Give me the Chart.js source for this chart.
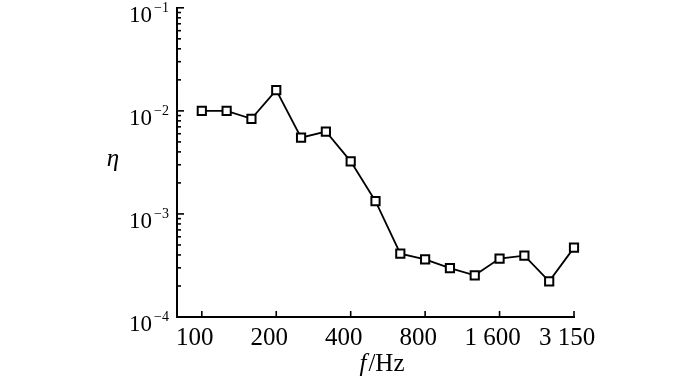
<!DOCTYPE html>
<html>
<head>
<meta charset="utf-8">
<script src="https://cdn.jsdelivr.net/npm/chart.js@4/dist/chart.umd.min.js"></script>
<style>
  body { margin: 0; background: #fff; }
  #wrap { width: 700px; height: 376px; }
</style>
</head>
<body>
<div id="wrap"><canvas id="graph" width="700" height="376"></canvas></div>
<script>
// 1/3 octave bands, loss factor eta
const freqLabels = ["100", "125", "160", "200", "250", "315", "400", "500", "630", "800", "1000", "1250", "1600", "2000", "2500", "3150"];
const etaValues = [0.0100, 0.0100, 0.00838, 0.0159, 0.00550, 0.0063, 0.00324, 0.00133, 0.000412, 0.000363, 0.000298, 0.000254, 0.000369, 0.000394, 0.000222, 0.000471];
const xTickIndex = [0, 3, 6, 9, 12, 15];
const xTickLabels = ["100", "200", "400", "800", "1 600", "3 150"];
const yTickExponents = [-4, -3, -2, -1];
const yMinorSteps = [2, 3, 4, 5, 6, 7, 8, 9];

const SERIF = "'Liberation Serif', 'DejaVu Serif', serif";

const axisDecor = {
  id: "axisDecor",
  afterDraw(chart) {
    const ctx = chart.ctx;
    const xs = chart.scales.x;
    const ys = chart.scales.y;
    const area = chart.chartArea;
    ctx.save();
    ctx.strokeStyle = "#000";
    ctx.fillStyle = "#000";
    ctx.lineWidth = 1.6;

    // y ticks, pointing inward
    yTickExponents.forEach(function (e, i) {
      const yp = ys.getPixelForValue(Math.pow(10, e));
      ctx.beginPath();
      ctx.moveTo(area.left, yp);
      ctx.lineTo(area.left + 7, yp);
      ctx.stroke();
      if (i < yTickExponents.length - 1) {
        yMinorSteps.forEach(function (m) {
          const ym = ys.getPixelForValue(m * Math.pow(10, e));
          ctx.beginPath();
          ctx.moveTo(area.left, ym);
          ctx.lineTo(area.left + 4, ym);
          ctx.stroke();
        });
      }
      // label 10^e
      ctx.font = "23px " + SERIF;
      ctx.textAlign = "right";
      ctx.textBaseline = "alphabetic";
      ctx.fillText("10", 152, yp + 14);
      ctx.font = "14px " + SERIF;
      ctx.textAlign = "left";
      ctx.fillText("\u2212" + Math.abs(e), 154, yp + 4);
    });

    // x ticks, pointing inward
    xTickIndex.forEach(function (idx, i) {
      const xp = xs.getPixelForValue(idx);
      ctx.beginPath();
      ctx.moveTo(xp, area.bottom);
      ctx.lineTo(xp, area.bottom - 6);
      ctx.stroke();
      ctx.font = "25px " + SERIF;
      ctx.textAlign = "center";
      ctx.textBaseline = "alphabetic";
      ctx.fillText(xTickLabels[i], xp - 7, area.bottom + 28);
    });

    // axis titles
    ctx.textAlign = "left";
    ctx.font = "italic 25px " + SERIF;
    const fW = ctx.measureText("f").width;
    ctx.font = "25px " + SERIF;
    const restW = ctx.measureText("/Hz").width;
    const startX = 381 - (fW + restW) / 2;
    ctx.font = "italic 25px " + SERIF;
    ctx.fillText("f", startX, 371);
    ctx.font = "25px " + SERIF;
    ctx.fillText("/Hz", startX + fW + 2, 371);

    ctx.font = "italic 25px " + SERIF;
    ctx.textAlign = "center";
    ctx.fillText("\u03b7", 113, 166);
    ctx.restore();
  }
};

const myChart = new Chart(document.getElementById("graph"), {
  type: "line",
  data: {
    datasets: [
      {
        label: "eta",
        data: etaValues.map(function (v, i) { return { x: i, y: v }; }),
        borderColor: "#000",
        borderWidth: 1.8,
        tension: 0,
        fill: false,
        pointStyle: "rect",
        pointRadius: 5.8,
        pointBorderWidth: 2,
        pointBackgroundColor: "#fff",
        pointBorderColor: "#000",
        clip: 10,
      },
    ],
  },
  options: {
    responsive: false,
    animation: false,
    events: [],
    layout: { padding: { left: 177, right: 126, top: 5, bottom: 59 } },
    plugins: { legend: { display: false }, tooltip: { enabled: false } },
    scales: {
      x: {
        type: "linear",
        min: -1,
        max: 15,
        grid: { display: false },
        ticks: { display: false },
        border: { display: true, color: "#000", width: 2 },
        afterFit: function (s) { s.height = 0; },
      },
      y: {
        type: "logarithmic",
        min: 1e-4,
        max: 1e-1,
        grid: { display: false },
        ticks: { display: false },
        border: { display: true, color: "#000", width: 2 },
        afterFit: function (s) { s.width = 0; },
      },
    },
  },
  plugins: [axisDecor],
});
</script>
</body>
</html>
